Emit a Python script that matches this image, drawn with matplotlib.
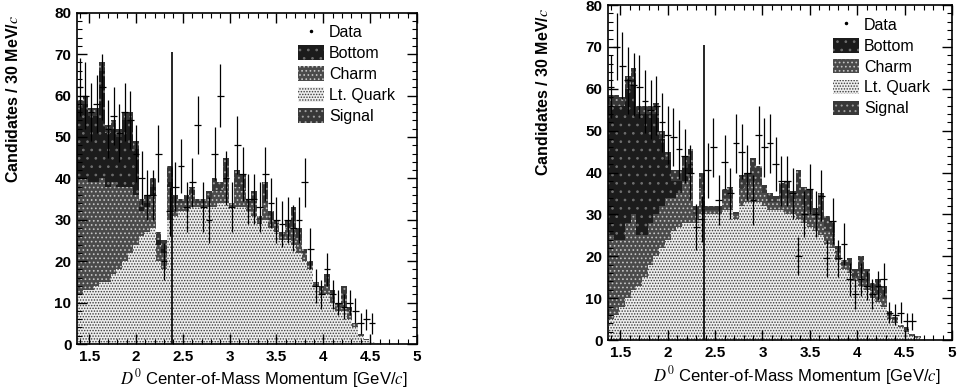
import numpy as np
import matplotlib
matplotlib.use("Agg")
import matplotlib.pyplot as plt
from matplotlib.patches import Patch
from matplotlib.lines import Line2D
from matplotlib.ticker import MultipleLocator

plt.rcParams['font.family'] = ['Liberation Sans', 'DejaVu Sans']
plt.rcParams['mathtext.fontset'] = 'stix'
plt.rcParams['hatch.linewidth'] = 0.7

# binning: 55 bins of 60 MeV starting at 1.37 GeV/c
lo_edge = 1.37
bin_w = 0.06
nan = np.nan

# ---- left panel (stack components, bottom to top) ----
lq_L = [12, 13, 13, 14, 15, 15, 17, 18, 20, 22, 24, 26, 27, 28, 20, 18, 30, 31, 32, 32,
        33, 33, 33, 33, 33, 34, 34, 33, 33, 33, 32, 31, 29, 30, 28, 27, 25, 25, 24, 22,
        20, 18, 14, 12, 12, 10, 8, 8, 6, 4, 2, 1, 0.5, 0.3, 0]
charm_L = [28, 27, 26, 25, 25, 23, 22, 20, 18, 16, 12, 6, 6, 8, 4, 4, 8, 3, 2, 2,
           3, 1, 1, 2, 4, 3, 5, 1, 5, 4, 2, 3, 1, 4, 2, 2, 1, 3, 4, 3,
           2, 1, 1, 1, 2, 2, 1, 3, 2, 1, 0.4, 0.2, 0, 0, 0]
bottom_L = [17, 18, 16, 16, 26, 13, 13, 12, 16, 16, 11, 1, 1, 2, 1, 1, 1, 0, 0, 0,
            0, 0, 0, 0, 0, 0, 0, 0, 0, 0, 0, 0, 0, 0, 0, 0, 0, 0, 0, 0,
            0, 0, 0, 0, 0, 0, 0, 0, 0, 0, 0, 0, 0, 0, 0]
signal_L = [2, 2, 2, 2, 2, 2, 2, 2, 2, 2, 2, 2, 2, 2, 2, 2, 4, 2, 1, 2,
            2, 1, 1, 2, 3, 2, 6, 0, 4, 4, 1, 3, 1, 5, 2, 1, 1, 2, 5, 3,
            1, 1, 0, 1, 3, 1, 1, 3, 1, 0, 0, 0, 0, 0, 0]
data_L = [62, 60, 56, 58, 62, 52, 55, 51, 56, 54, 46, 40, 36, 36, 46, 20, 32, 38, 43, 33,
          39, 53, 33, 30, 46, 60, 40, 33, 48, 41, 35, 35, 33, 41, 34, 30, 29, 30, 28, 30,
          39, 23, 14, 12, 18, 12, 10, 9, 10, 8, 5, 6, 5, nan, nan]
err_L = [7, 8, 7, 7, 8, 7, 7, 7, 7, 7, 7, 6.5, 6, 6, 7, 4.5, 6, 6, 6.5, 6,
         6, 7, 6, 5.5, 6.5, 7.5, 6.5, 6, 7, 6.5, 6, 6, 6, 6.5, 6, 5.5, 5.5, 5.5, 5.5, 5.5,
         6, 5, 4, 3.5, 4, 3.5, 3, 3, 3, 3, 2.5, 2.5, 2.5, nan, nan]

# ---- right panel ----
lq_R = [5, 6, 8, 10, 12, 13, 15, 18, 20, 22, 24, 26, 27, 28, 28, 28, 30, 30, 30, 30,
        31, 31, 29, 32, 33, 33, 33, 32, 31, 31, 31, 30, 30, 29, 28, 27, 26, 25, 23, 22,
        19, 17, 16, 14, 13, 12, 10, 9, 8, 5, 4, 3, 2, 1, 0.5]
charm_R = [20, 18, 16, 18, 18, 12, 10, 10, 10, 10, 10, 8, 8, 10, 12, 2, 6, 1, 1, 1,
           3, 3, 1, 4, 4, 5, 4, 3, 2, 2, 3, 4, 3, 5, 4, 4, 3, 4, 3, 3,
           2, 1, 2, 1, 3, 2, 2, 2, 2, 1, 1, 0.5, 0.5, 0.5, 0.5]
bottom_R = [31, 32, 32, 32, 32, 29, 29, 26, 24, 16, 9, 4, 3, 3, 2, 0, 0, 0, 0, 0,
            0, 0, 0, 0, 0, 0, 0, 0, 0, 0, 0, 0, 0, 0, 0, 0, 0, 0, 0, 0,
            0, 0, 0, 0, 0, 0, 0, 0, 0, 0, 0, 0, 0, 0, 0]
signal_R = [2.5, 2.5, 2, 3, 3, 2, 2, 2, 2.5, 2, 2, 2.5, 2.5, 3, 3.5, 2, 4, 1, 1, 1,
            2, 2.5, 0.5, 3.5, 3, 5.5, 4.5, 2, 2, 1.5, 3.5, 4, 2.5, 6.5, 4.5, 5, 2.5, 6, 3.5, 3.5,
            1.5, 1, 1.5, 2, 4, 3, 1.5, 3.5, 3, 1, 0.5, 0, 0.5, 0, 0]
data_R = [60.5, 70, 65.5, 62, 61, 60.5, 57, 55, 56, 52, 49, 48.5, 45.5, 44, 40, 27, 29, 40.5, 46, 33.5,
          42.5, 35, 47, 45, 40, 33.5, 49, 46, 47, 42, 38, 38, 35, 20, 30, 36, 30, 34.5, 19.5, 28.5,
          19.5, 23, 14.5, 11, 14.5, 13, 11, 13, 14.5, 6.5, 6, 6.5, 4.5, 4.5, nan]
err_R = [7.5, 8, 8, 8, 7.5, 7.5, 7.5, 7, 7, 7, 7, 7, 7, 6.5, 6.5, 5.5, 5.5, 6.5, 7, 6,
         6.5, 6, 7, 6.5, 6.5, 6, 7, 7, 7, 6.5, 6, 6, 6, 4.5, 5.5, 6, 5.5, 6, 4.5, 5.5,
         4.5, 5, 4, 3.5, 4, 3.5, 3.5, 3.5, 4, 2.5, 2.5, 2.5, 2, 2, nan]

cut_x = 2.38      # vertical line drawn in both panels
cut_top = 70.5

legend_names = ['Data', 'Bottom', 'Charm', 'Lt. Quark', 'Signal']

# fill styles (face, speckle colour, speckle)
sty = {
    'Lt. Quark': dict(facecolor='#eeeeee', edgecolor='#3a3a3a', hatch='......'),
    'Charm': dict(facecolor='#4a4a4a', edgecolor='#c4c4c4', hatch='....'),
    'Bottom': dict(facecolor='#1c1c1c', edgecolor='#707070', hatch='..'),
    'Signal': dict(facecolor='#383838', edgecolor='#a0a0a0', hatch='...'),
}

fig = plt.figure(figsize=(9.59, 3.91), dpi=100)
axL = fig.add_axes([0.0803, 0.1202, 0.3545, 0.8473])
axR = fig.add_axes([0.634, 0.1304, 0.3587, 0.8568])


def draw(ax, lq, charm, bottom, signal, data, err, leg_xy):
    n = len(lq)
    centers = lo_edge + bin_w * (np.arange(n) + 0.5)
    base = np.zeros(n)
    for name, vals in [('Lt. Quark', lq), ('Charm', charm), ('Bottom', bottom), ('Signal', signal)]:
        vals = np.array(vals, dtype=float)
        ax.bar(centers, vals, width=bin_w, bottom=base, linewidth=0, **sty[name])
        base = base + vals
    d = np.array(data, dtype=float)
    e = np.array(err, dtype=float)
    m = ~np.isnan(d)
    ax.errorbar(centers[m], d[m], yerr=e[m], xerr=bin_w * 0.6, fmt='none',
                ecolor='black', elinewidth=0.9, capsize=0)
    ax.vlines(cut_x, 0, cut_top, color='black', lw=1.2)

    ax.set_xlim(1.37, 5.0)
    ax.set_ylim(0, 80)
    ax.xaxis.set_minor_locator(MultipleLocator(0.1))
    ax.yaxis.set_major_locator(MultipleLocator(10))
    ax.yaxis.set_minor_locator(MultipleLocator(2))
    ax.set_xticks([1.5, 2, 2.5, 3, 3.5, 4, 4.5, 5])
    ax.set_xticklabels(['1.5', '2', '2.5', '3', '3.5', '4', '4.5', '5'])
    ax.tick_params(which='both', direction='in', top=True, right=True, labelsize=11)
    ax.tick_params(which='major', length=7, width=1, pad=4)
    ax.tick_params(which='minor', length=3.5, width=0.8)
    for lab in ax.get_xticklabels() + ax.get_yticklabels():
        lab.set_fontweight('bold')
    for s in ax.spines.values():
        s.set_linewidth(1.2)

    ax.set_ylabel(r'Candidates / 30 MeV/$c$', fontsize=11.5, fontweight='bold')
    ax.yaxis.set_label_coords(-0.165, 0.74)
    ax.set_xlabel(r'$D^0$ Center-of-Mass Momentum [GeV/$c$]', fontsize=12,
                  va='center')
    ax.xaxis.set_label_coords(0.55, -0.105)

    handles = [Line2D([], [], ls='none', marker='.', ms=3, color='black')]
    for name in legend_names[1:]:
        handles.append(Patch(linewidth=0, **sty[name]))
    ax.legend(handles, legend_names, loc='upper left', bbox_to_anchor=leg_xy,
              frameon=False, fontsize=11.5, handlelength=1.6, handleheight=1.05,
              handletextpad=0.35, labelspacing=0.32, borderpad=0, borderaxespad=0)


draw(axL, lq_L, charm_L, bottom_L, signal_L, data_L, err_L, (0.65, 0.965))
draw(axR, lq_R, charm_R, bottom_R, signal_R, data_R, err_R, (0.654, 0.965))

fig.savefig('out.png', dpi=100)
